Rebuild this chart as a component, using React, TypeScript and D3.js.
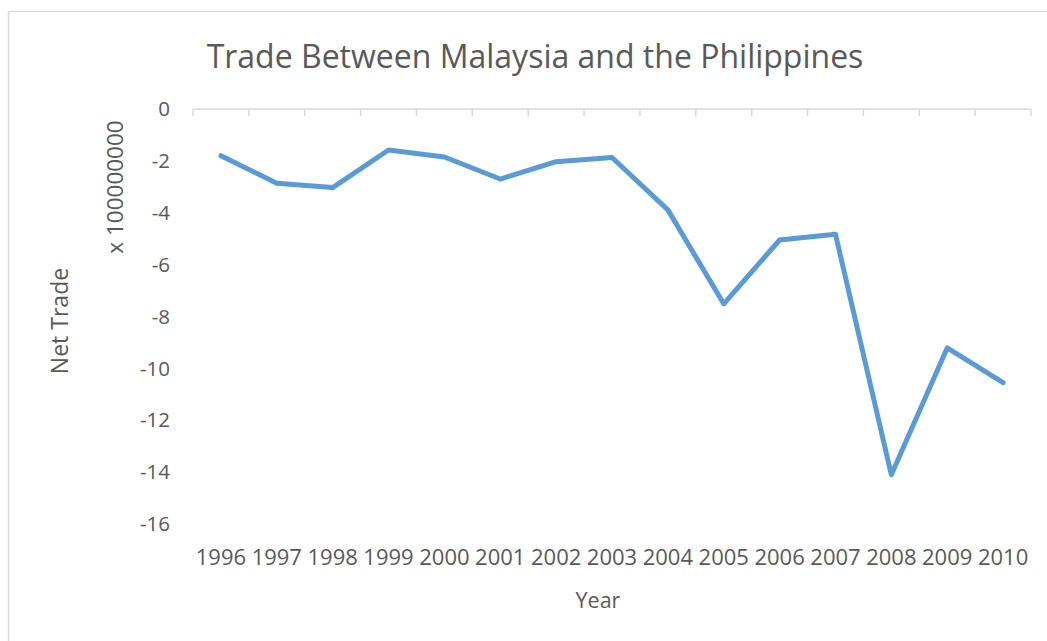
import React from "react";
import * as d3 from "d3";

const years = ["1996","1997","1998","1999","2000","2001","2002","2003","2004","2005","2006","2007","2008","2009","2010"];
const netTrade = [-1.8,-2.86,-3.03,-1.58,-1.85,-2.7,-2.03,-1.87,-3.89,-7.51,-5.05,-4.83,-14.1,-9.21,-10.55];
const yTicks = [0,-2,-4,-6,-8,-10,-12,-14,-16];

const W = 1047, H = 641;
const FONT = "'Open Sans', 'Noto Sans', sans-serif";
const TXT = "#595959";

export default function App() {
  const x = d3.scaleBand<string>().domain(years).range([193, 1031]).padding(0);
  const y = d3.scaleLinear().domain([-16, 0]).range([524, 109]);
  const line = d3.line<number>()
    .x((_, i) => (x(years[i]) as number) + x.bandwidth() / 2)
    .y((d) => y(d));
  const tickXs = years.map((yr) => x(yr) as number).concat([x.range()[1]]);

  return (
    <svg width={W} height={H} style={{ position: "absolute", left: 0, top: 0 }} fontFamily={FONT}>
      <rect x={0} y={0} width={W} height={H} fill="#fff" />
      <rect x={8.5} y={11.5} width={W + 20} height={H + 20} fill="none" stroke="#d9d9d9" strokeWidth={1.5} />
      <text x={535} y={57} dy="0.35em" textAnchor="middle" fontSize={32} fill={TXT}>
        Trade Between Malaysia and the Philippines
      </text>
      <line x1={x.range()[0]} x2={x.range()[1]} y1={y(0)} y2={y(0)} stroke="#d9d9d9" strokeWidth={1.5} />
      {tickXs.map((tx, i) => (
        <line key={i} x1={tx} x2={tx} y1={y(0)} y2={y(0) + 7} stroke="#d9d9d9" strokeWidth={1.5} />
      ))}
      {yTicks.map((t) => (
        <text key={t} x={170} y={y(t)} dy="0.35em" textAnchor="end" fontSize={20.5} fill={TXT}>
          {t}
        </text>
      ))}
      {years.map((yr) => (
        <text key={yr} x={(x(yr) as number) + x.bandwidth() / 2} y={557} dy="0.35em" textAnchor="middle" fontSize={22} fill={TXT}>
          {yr}
        </text>
      ))}
      <text x={598} y={600} dy="0.35em" textAnchor="middle" fontSize={21.5} fill={TXT}>Year</text>
      <text transform="translate(115,187) rotate(-90)" dy="0.35em" textAnchor="middle" fontSize={22.5} fill={TXT}>
        x 100000000
      </text>
      <text transform="translate(60,321) rotate(-90)" dy="0.35em" textAnchor="middle" fontSize={23} fill={TXT}>
        Net Trade
      </text>
      <path d={line(netTrade) || ""} fill="none" stroke="#5b9bd5" strokeWidth={5} strokeLinejoin="round" strokeLinecap="round" />
    </svg>
  );
}
